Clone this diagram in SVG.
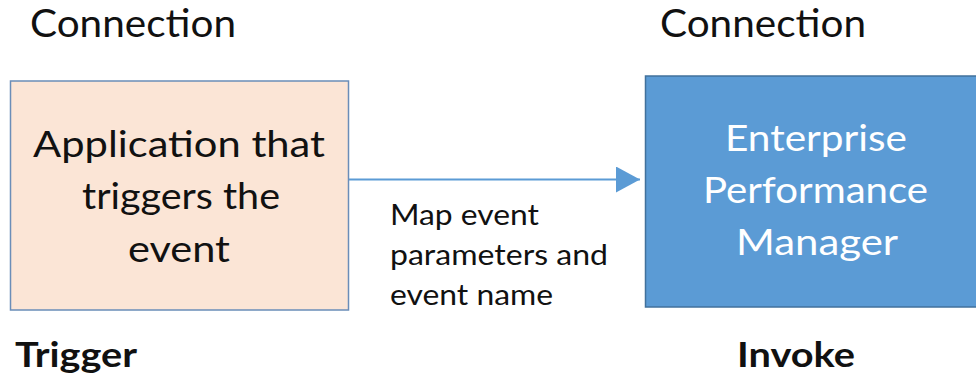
<svg xmlns="http://www.w3.org/2000/svg" width="976" height="379" viewBox="0 0 976 379">
<style>
text{font-family:Lato,"Open Sans","Liberation Sans",sans-serif;fill:#111}
.h{font-size:38px}
.b{font-size:35px;font-weight:bold}
.n{font-size:36px}
.w{fill:#fff}
.l{font-size:28px}
</style>
<defs>
<marker id="arr" markerWidth="24" markerHeight="26" refX="24" refY="13" orient="auto" markerUnits="userSpaceOnUse">
<path d="M0,0 L24,13 L0,26 Z" fill="#5B9BD5"/>
</marker>
</defs>
<rect width="976" height="379" fill="#fff"/>
<text class="h" x="30" y="37" textLength="206" lengthAdjust="spacingAndGlyphs">Connection</text>
<text class="h" x="660" y="37" textLength="206" lengthAdjust="spacingAndGlyphs">Connection</text>
<text class="b" x="15" y="367" textLength="122" lengthAdjust="spacingAndGlyphs">Trigger</text>
<text class="b" x="737" y="367" textLength="118" lengthAdjust="spacingAndGlyphs">Invoke</text>
<g id="trigger">
<rect x="10.5" y="81" width="338" height="229" fill="#FBE5D6" stroke="#6A8DB8" stroke-width="1.5"/>
<text class="n" x="33" y="157" textLength="292" lengthAdjust="spacingAndGlyphs">Application that</text>
<text class="n" x="82" y="209" textLength="198" lengthAdjust="spacingAndGlyphs">triggers the</text>
<text class="n" x="128" y="262" textLength="102" lengthAdjust="spacingAndGlyphs">event</text>
</g>
<g id="epm">
<rect x="645.5" y="76" width="340" height="231" fill="#5B9BD5" stroke="#41719C" stroke-width="1.5"/>
<text class="n w" x="725" y="151" textLength="182" lengthAdjust="spacingAndGlyphs">Enterprise</text>
<text class="n w" x="703" y="203" textLength="225" lengthAdjust="spacingAndGlyphs">Performance</text>
<text class="n w" x="736" y="255" textLength="162" lengthAdjust="spacingAndGlyphs">Manager</text>
</g>
<g id="connectors">
<line x1="349" y1="179.5" x2="640" y2="179.5" stroke="#5B9BD5" stroke-width="2" marker-end="url(#arr)"/>
<text class="l" x="390" y="225" textLength="149" lengthAdjust="spacingAndGlyphs">Map event</text>
<text class="l" x="390" y="265" textLength="218" lengthAdjust="spacingAndGlyphs">parameters and</text>
<text class="l" x="390" y="305" textLength="163" lengthAdjust="spacingAndGlyphs">event name</text>
</g>
</svg>
